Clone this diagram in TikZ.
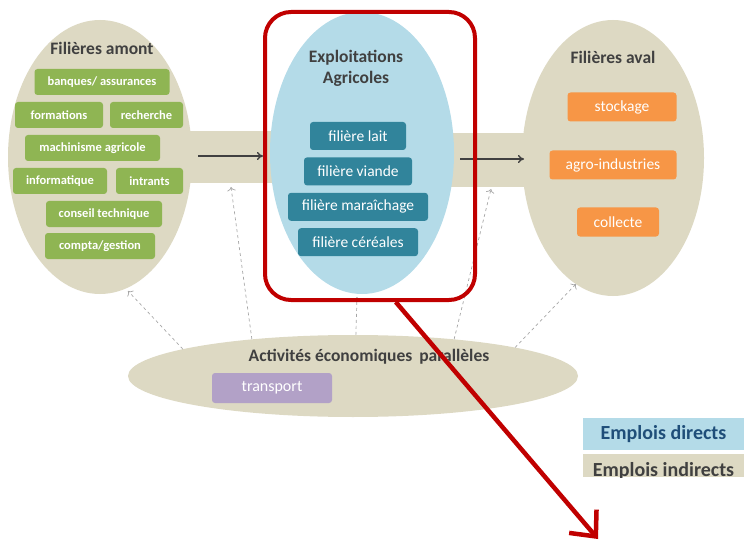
\documentclass[tikz,border=0pt]{standalone}
\usepackage{fontspec}
\setmainfont{Carlito}
\usetikzlibrary{arrows.meta,
                positioning,
                shapes.geometric}
\definecolor{colTan}{HTML}{DDD9C3}
\definecolor{colSky}{HTML}{B4DBE8}
\definecolor{colTeal}{HTML}{31849B}
\definecolor{colGreen}{HTML}{8FB553}
\definecolor{colOrange}{HTML}{F79646}
\definecolor{colLilac}{HTML}{B2A1C7}
\definecolor{colRed}{HTML}{C00000}
\definecolor{colInk}{HTML}{404040}
\definecolor{colNavy}{HTML}{1F4E79}

\tikzset{
	pole/.style={ellipse, fill=colTan, inner sep=0pt},
	title/.style={text=colInk, font=\bfseries\fontsize{17.5}{21}\selectfont, align=center},
	greenbox/.style={rounded corners=3pt, fill=colGreen, text=white, minimum height=26pt,
		inner sep=0pt, font=\bfseries\fontsize{12.5}{14}\selectfont},
	tealbox/.style={rounded corners=3pt, fill=colTeal, text=white, minimum height=28pt,
		inner sep=0pt, font=\fontsize{15.5}{17}\selectfont},
	orangebox/.style={rounded corners=3pt, fill=colOrange, text=white, minimum height=29pt,
		inner sep=0pt, font=\fontsize{15.5}{17}\selectfont},
	dasharrow/.style={->, >={To[length=4pt]}, draw=gray!70, dashed, line width=0.7pt},
	flowarrow/.style={->, >={To[length=6pt,width=8pt]}, draw=colInk, line width=1.4pt},
	legend/.style={minimum width=161pt, inner sep=0pt, font=\bfseries\fontsize{20}{22}\selectfont}
}

\begin{document}
\begin{tikzpicture}[x=1pt,y=-1pt]
	\useasboundingbox (0,0) rectangle (744,540);
	% bands between the poles
	\fill[colTan] (185,131) rectangle (285,183);
	\fill[colTan] (445,133) rectangle (530,187);
	% poles
	\node [pole, minimum width=184pt, minimum height=274pt] (amont) at (100,157) {};
	\node [pole, minimum width=182pt, minimum height=276pt] (aval) at (613,158) {};
	\node [pole, minimum width=450pt, minimum height=82pt] (act) at (353,376) {};
	\node [ellipse, fill=colSky, inner sep=0pt, minimum width=184pt, minimum height=282pt] (exploit) at (362,153) {};
	% dashed links from the parallel activities
	\coordinate (t1) at (128,291);
	\coordinate (t2) at (231,187);
	\coordinate (t3) at (357,297);
	\coordinate (t4) at (491,189);
	\coordinate (t5) at (576,284);
	\path
		(act.171) edge [dasharrow] (t1)
		(act.160) edge [dasharrow] (t2)
		(act.86) edge [dasharrow] (t3)
		(act.20) edge [dasharrow] (t4)
		(act.10) edge [dasharrow] (t5);
	% main flow
	\coordinate (f1) at (198,156);
	\coordinate (f2) at (263,156);
	\coordinate (f3) at (460,159);
	\coordinate (f4) at (524,159);
	\path
		(f1) edge [flowarrow] (f2)
		(f3) edge [flowarrow] (f4);
	% titles
	\node [title] (amontt) at (102,48) {Filières amont};
	\node [title] (exploitt) at (356,68) {Exploitations\\Agricoles};
	\node [title] (avalt) at (613,57) {Filières aval};
	\node [title] (actt) at (369,357) {Activités économiques\, parallèles};
	% upstream
	\node [greenbox, minimum width=135pt] (banq) at (102,82) {banques/ assurances};
	\node [greenbox, minimum width=88pt] (form) at (59,115) {formations};
	\node [greenbox, minimum width=73pt] (rech) at (146.5,115) {recherche};
	\node [greenbox, minimum width=135pt] (mach) at (92.5,148) {machinisme agricole};
	\node [greenbox, minimum width=94pt] (info) at (60,181) {informatique};
	\node [greenbox, minimum width=67pt] (intr) at (149.5,181) {intrants};
	\node [greenbox, minimum width=116pt] (cons) at (104,214) {conseil technique};
	\node [greenbox, minimum width=110pt] (compta) at (100,246) {compta/gestion};
	% farms
	\node [tealbox, minimum width=96pt] (lait) at (358,136) {filière lait};
	\node [tealbox, minimum width=108pt, below=7pt of lait] (viande) {filière viande};
	\node [tealbox, minimum width=140pt, below=7pt of viande] (mara) {filière maraîchage};
	\node [tealbox, minimum width=120pt, below=7pt of mara] (cere) {filière céréales};
	% downstream
	\node [orangebox, minimum width=109pt] (stock) at (622,107) {stockage};
	\node [orangebox, minimum width=127pt] (agro) at (613,165) {agro-industries};
	\node [orangebox, minimum width=82pt] (coll) at (618,222) {collecte};
	% parallel
	\node [rounded corners=3pt, fill=colLilac, text=white, minimum width=120pt, minimum height=30pt,
		inner sep=0pt, font=\fontsize{16}{18}\selectfont] (trans) at (272,388) {transport};
	% highlight
	\node [draw=colRed, line width=4pt, rounded corners=26pt, minimum width=210pt,
		minimum height=288pt, inner sep=0pt] (frame) at (370,156) {};
	\coordinate (zoomtip) at (598,539);
	\draw[colRed, line width=4.5pt, -{Straight Barb[length=20pt,width=36pt]}]
		(frame.-80) -- (zoomtip);
	% legend
	\node [legend, fill=colSky, text=colNavy, minimum height=32pt] (ldir) at (663.5,434) {Emplois directs};
	\node [fill=colTan, minimum width=161pt, minimum height=23pt, inner sep=0pt, below=4pt of ldir] (lind) {};
	\begin{scope}
		\clip (lind.north west) rectangle (lind.south east);
		\node [legend, text=colInk, anchor=base] (lindt) at (663.5,476) {Emplois indirects};
	\end{scope}
\end{tikzpicture}
\end{document}
